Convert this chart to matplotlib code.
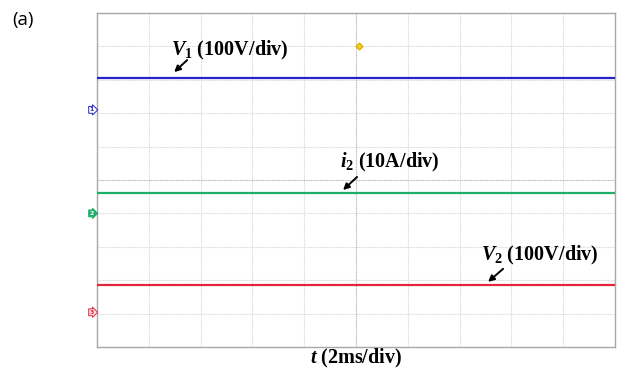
import matplotlib
matplotlib.use("Agg")
import matplotlib.pyplot as plt

plt.rcParams['mathtext.fontset'] = 'custom'
plt.rcParams['mathtext.it'] = 'Liberation Serif:italic:bold'
plt.rcParams['mathtext.rm'] = 'Liberation Serif:bold'
plt.rcParams['mathtext.bf'] = 'Liberation Serif:bold'

# data (in divisions)
t_span = [0, 10]
v1_level = [8.06, 8.06]
i2_level = [4.6, 4.6]
v2_level = [1.85, 1.85]
ch_refs = [7.1, 4.0, 1.04]          # channel ground markers
ch_labels = ["1", "2", "3"]
trigger = (5.05, 9.02)
labels = [r"$V_1$ (100V/div)", r"$i_2$ (10A/div)", r"$V_2$ (100V/div)"]
colors = ["#2323c8", "#1fae6a", "#e3263a"]

fig = plt.figure(figsize=(6.17, 3.76), dpi=100)
ax = fig.add_axes([97/617, 29/376, 518/617, 334/376])
ax.set_xlim(0, 10)
ax.set_ylim(0, 10)

for k in range(1, 10):
    c = "#b8b8b8" if k == 5 else "#dcdcdc"
    ax.axvline(k, color=c, lw=0.8, ls=(0, (1, 0.6)), zorder=1)
    ax.axhline(k, color=c, lw=0.8, ls=(0, (1, 0.6)), zorder=1)

for lvl, c in zip([v1_level, i2_level, v2_level], colors):
    ax.plot(t_span, lvl, color=c, lw=1.6, zorder=3)

ax.plot([trigger[0]], [trigger[1]], marker="D", ms=3.5, color="#f2d22c",
        mec="#e0b000", zorder=4)

ax.set_xticks([])
ax.set_yticks([])
for s in ax.spines.values():
    s.set_color("#a8a8a8")
    s.set_linewidth(1.0)

# channel markers
fcs = ["white", colors[1], "#fbe0e0"]
tcs = [colors[0], "white", colors[2]]
for y, lab, c, fc, tc in zip(ch_refs, ch_labels, colors, fcs, tcs):
    ax.text(-0.1, y, lab, color=tc, fontsize=4.5, ha="center", va="center",
            clip_on=False, fontweight="bold",
            bbox=dict(boxstyle="rarrow,pad=0.15", fc=fc, ec=c, lw=0.7))

# annotations
ann = [
    (labels[0], (1.49, 8.23), (1.74, 8.59), (2.57, 8.89)),
    (labels[1], (4.75, 4.70), (5.02, 5.09), (5.66, 5.51)),
    (labels[2], (7.55, 1.95), (7.84, 2.34), (8.55, 2.75)),
]
for text, tip, tail, tpos in ann:
    ax.annotate("", xy=tip, xytext=tail,
                arrowprops=dict(arrowstyle="-|>", color="black", lw=1.4,
                                mutation_scale=9, shrinkA=0, shrinkB=0))
    ax.text(tpos[0], tpos[1], text, fontsize=14.5, ha="center", va="center",
            family="Liberation Serif", fontweight="bold")

fig.text(356/617, 1 - 358/376, r"$t$ (2ms/div)", fontsize=14.5, ha="center",
         va="center", family="Liberation Serif", fontweight="bold")
fig.text(12/617, 1 - 20/376, "(a)", fontsize=13.5, ha="left", va="center",
         family="Open Sans")

fig.savefig("out.png", dpi=100)
